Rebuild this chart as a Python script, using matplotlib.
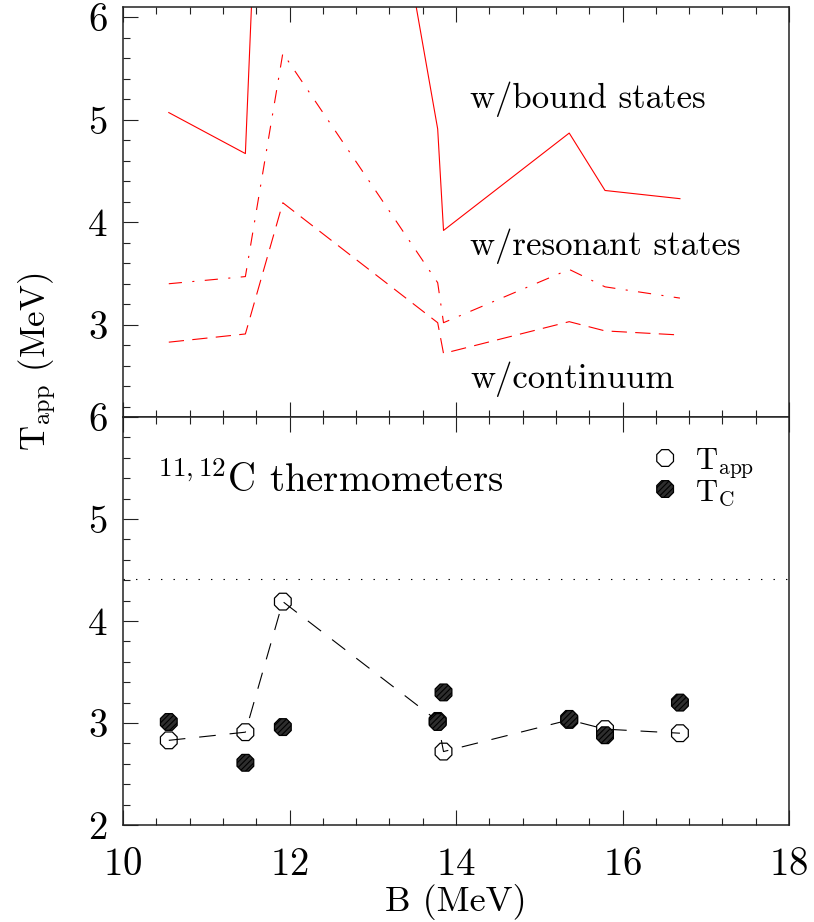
import matplotlib.pyplot as plt
from matplotlib.ticker import MultipleLocator, NullFormatter

plt.rcParams['font.family'] = ['cmr10']
plt.rcParams['mathtext.fontset'] = 'cm'
plt.rcParams['axes.formatter.use_mathtext'] = True
plt.rcParams['lines.scale_dashes'] = False
plt.rcParams['hatch.color'] = '#8a8a8a'
plt.rcParams['hatch.linewidth'] = 0.8

# binding energies of the thermometers (MeV)
b_mev = [10.55, 11.47, 11.92, 13.78, 13.85, 15.36, 15.79, 16.69]
# top panel: apparent temperature with corrections
t_bound = [5.07, 4.67, 13.5, 4.91, 3.92, 4.87, 4.31, 4.23]
t_resonant = [3.40, 3.47, 5.65, 3.41, 3.02, 3.54, 3.37, 3.26]
# bottom panel
t_app = [2.83, 2.91, 4.19, 3.02, 2.72, 3.03, 2.94, 2.90]
t_c = [3.01, 2.61, 2.96, 3.01, 3.30, 3.04, 2.88, 3.20]
t_line = 4.41

RED = '#ff0000'
TICK_FS = 28
TEXT_FS = 25


def style_axis(ax):
    ax.xaxis.set_major_locator(MultipleLocator(2))
    ax.xaxis.set_minor_locator(MultipleLocator(0.4))
    ax.yaxis.set_major_locator(MultipleLocator(1))
    ax.yaxis.set_minor_locator(MultipleLocator(0.2))
    ax.tick_params(which='both', direction='in', top=True, right=False,
                   width=0.8, color='#222222')
    ax.tick_params(which='major', length=11, labelsize=TICK_FS)
    ax.tick_params(which='minor', length=5)
    ax.tick_params(axis='y', pad=11)
    ax.tick_params(axis='x', pad=16)
    for sp in ax.spines.values():
        sp.set_linewidth(1.1)
        sp.set_color('#222222')


fig = plt.figure(figsize=(8.14, 9.22), dpi=100)
fig.patch.set_facecolor('white')

left, width = 123 / 814, 666 / 814
ax_top = fig.add_axes([left, 1 - 417 / 922, width, 410 / 922])
ax_bot = fig.add_axes([left, 1 - 825 / 922, width, 408 / 922])

# ---- top panel ----
ax_top.plot(b_mev, t_bound, color=RED, lw=0.8)
ax_top.plot(b_mev, t_resonant, color=RED, lw=0.8, ls=(0, (9.5, 7.5, 1.5, 7.5)))
ax_top.plot(b_mev, t_app, color=RED, lw=0.8, ls=(0, (11, 6)))
ax_top.set_xlim(10, 18)
ax_top.set_ylim(2.1, 6.1)
style_axis(ax_top)
ax_top.xaxis.set_major_formatter(NullFormatter())

ax_top.text(14.17, 5.11, 'w/bound states', fontsize=TEXT_FS, va='baseline')
ax_top.text(14.17, 3.68, 'w/resonant states', fontsize=TEXT_FS, va='baseline')
ax_top.text(14.17, 2.38, 'w/continuum', fontsize=TEXT_FS, va='baseline')

# ---- bottom panel ----
ax_bot.axhline(t_line, color='black', lw=0.8, ls=(0, (1, 8)))
ax_bot.plot(b_mev, t_app, color='black', lw=0.8, ls=(0, (12, 10)), zorder=2)
ax_bot.scatter(b_mev, t_app, marker='8', s=170, facecolors='none',
               edgecolors='black', linewidths=0.9, zorder=3)
ax_bot.scatter(b_mev, t_c, marker='8', s=170, facecolors='#2e2e2e',
               edgecolors='black', linewidths=0.9, hatch='//////', zorder=4)
ax_bot.set_xlim(10, 18)
ax_bot.set_ylim(2, 6)
style_axis(ax_bot)

ax_bot.text(10.41, 5.26, r'$^{11,12}$C thermometers', fontsize=28,
            va='baseline')

# legend
ax_bot.scatter([0.814], [0.8995], transform=ax_bot.transAxes, marker='8',
               s=170, facecolors='none', edgecolors='black', linewidths=0.9)
ax_bot.scatter([0.814], [0.8235], transform=ax_bot.transAxes, marker='8',
               s=170, facecolors='#2e2e2e', edgecolors='black',
               linewidths=0.9, hatch='//////')
ax_bot.text(0.859, 0.872, r'T$_{\rm app}$', transform=ax_bot.transAxes,
            fontsize=22, va='baseline')
ax_bot.text(0.859, 0.795, r'T$_{\rm C}$', transform=ax_bot.transAxes,
            fontsize=22, va='baseline')

fig.text(456 / 814, 1 - 902 / 922, 'B (MeV)', fontsize=26,
         ha='center', va='center')
fig.text(38 / 814, 1 - 362 / 922, r'T$_{\rm app}$ (MeV)', fontsize=25,
         ha='center', va='center', rotation=90)

fig.savefig('out.png', dpi=100, facecolor='white')
